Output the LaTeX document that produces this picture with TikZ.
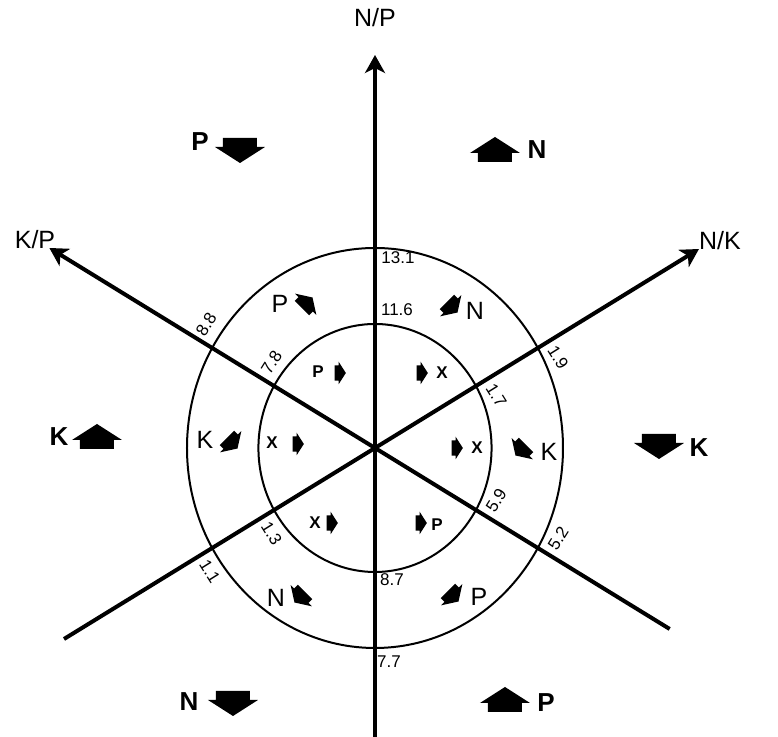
\documentclass[tikz,border=0pt]{standalone}
\usepackage{fontspec}
\setmainfont{Liberation Sans}
\usetikzlibrary{arrows.meta}

\tikzset{
	asse/.style={line width=2pt, -{Stealth[length=9pt,width=10pt,inset=2.5pt]}},
	cerchio/.style={line width=1pt},
	grande/.style={font=\fontsize{13}{15}\selectfont\bfseries, inner sep=0pt},
	medio/.style={font=\fontsize{12.5}{14}\selectfont, inner sep=0pt},
	numero/.style={font=\fontsize{8.5}{10}\selectfont, inner sep=0pt},
	piccolo/.style={font=\fontsize{8.5}{10}\selectfont\bfseries, inner sep=0pt},
	freccia/.pic={\fill (0,13) -- (25,-3) -- (17,-3) -- (17,-12) -- (-17,-12) -- (-17,-3) -- (-25,-3) -- cycle;}
}

\begin{document}
\begin{tikzpicture}[x=0.5pt, y=0.5pt]
	\useasboundingbox (-375,-289) rectangle (403,448); % Cornice

	\begin{scope}[xscale=0.94]
		% Punti degli assi
		\coordinate (O) at (0,0); % Centro
		\coordinate (sotto) at (0,-300);
		\coordinate (np) at (0,393);
		\coordinate (kpa) at (330:362);
		\coordinate (kp) at (150:400);
		\coordinate (nka) at (210:382);
		\coordinate (nk) at (30:398);

		% Cerchi
		\draw[cerchio] (O) circle (200); % Cerchio esterno
		\draw[cerchio] (O) circle (124); % Cerchio interno

		% Assi
		\draw[asse] (sotto) -- (np); % Asse N/P
		\draw[asse] (kpa) -- (kp); % Asse K/P
		\draw[asse] (nka) -- (nk); % Asse N/K

		% Valori sugli assi obliqui
		\node[numero, rotate=58] (n88) at (145.5:218) {8.8};
		\node[numero, rotate=58] (n78) at (142.2:139.3) {7.8};
		\node[numero, rotate=-58] (n19) at (24.9:214.8) {1.9};
		\node[numero, rotate=-58] (n17) at (22.2:139.3) {1.7};
		\node[numero, rotate=58] (n52) at (335.1:214.8) {5.2};
		\node[numero, rotate=58] (n59) at (337.8:139.3) {5.9};
		\node[numero, rotate=-58] (n11) at (215.1:214.8) {1.1};
		\node[numero, rotate=-58] (n13) at (217.8:139.3) {1.3};
	\end{scope}

	% Etichette degli assi
	\node[medio] (lnp) at (0,430) {N/P};
	\node[medio] (lkp) at (-340,208) {K/P};
	\node[medio] (lnk) at (345,207) {N/K};

	% Valori sull'asse verticale
	\node[numero] (n131) at (23,190) {13.1};
	\node[numero] (n116) at (22,138) {11.6};
	\node[numero] (n87) at (17,-132) {8.7};
	\node[numero] (n77) at (14,-214) {7.7};

	% Frecce esterne
	\node[grande] (pa) at (-175,306) {P};
	\pic[rotate=180] at (-135,298) {freccia};
	\node[grande] (na) at (162,298) {N};
	\pic at (120,298) {freccia};
	\node[grande] (ka) at (-316,11) {K};
	\pic at (-278,11) {freccia};
	\node[grande] (kb) at (324,0) {K};
	\pic[rotate=180] at (284,2) {freccia};
	\node[grande] (nb) at (-186,-254) {N};
	\pic[rotate=180] at (-142,-255) {freccia};
	\node[grande] (pb) at (171,-255) {P};
	\pic at (130,-252) {freccia};

	% Anello medio
	\node[medio] (pc) at (-95,144) {P};
	\pic[rotate=-45, scale=0.6] at (-68,145) {freccia};
	\node[medio] (nc) at (100,137) {N};
	\pic[rotate=-135, scale=0.6] at (77,141) {freccia};
	\node[medio] (kc) at (-170,8) {K};
	\pic[rotate=-135, scale=0.6] at (-143,5) {freccia};
	\node[medio] (kd) at (174,-4) {K};
	\pic[rotate=135, scale=0.6] at (146,-2) {freccia};
	\node[medio] (nd) at (-99,-150) {N};
	\pic[rotate=135, scale=0.6] at (-75,-149) {freccia};
	\node[medio] (pd) at (104,-149) {P};
	\pic[rotate=-135, scale=0.6] at (78,-148) {freccia};

	% Anello interno
	\node[piccolo] (pe) at (-57,76) {P};
	\pic[rotate=-90, scale=0.45] at (-35,75) {freccia};
	\node[piccolo] (xe) at (67,75) {X};
	\pic[rotate=-90, scale=0.45] at (47,75) {freccia};
	\node[piccolo] (xf) at (-103,5) {X};
	\pic[rotate=-90, scale=0.45] at (-77,4) {freccia};
	\node[piccolo] (xg) at (102,0) {X};
	\pic[rotate=-90, scale=0.45] at (82,0) {freccia};
	\node[piccolo] (xh) at (-60,-75) {X};
	\pic[rotate=-90, scale=0.45] at (-43,-75) {freccia};
	\node[piccolo] (pf) at (62,-77) {P};
	\pic[rotate=-90, scale=0.45] at (46,-75) {freccia};
\end{tikzpicture}
\end{document}
